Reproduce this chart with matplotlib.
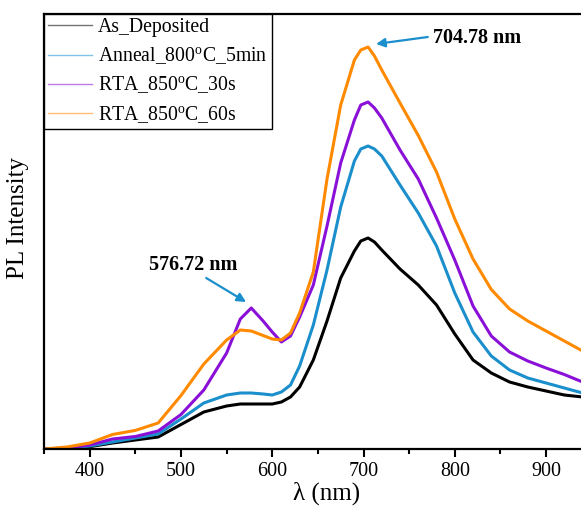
import matplotlib
matplotlib.use("Agg")
import matplotlib.pyplot as plt
from matplotlib.ticker import MultipleLocator, NullLocator

plt.rcParams['font.family'] = ['Liberation Serif', 'DejaVu Serif']
plt.rcParams['mathtext.fontset'] = 'custom'
plt.rcParams['mathtext.rm'] = 'Liberation Serif'
plt.rcParams['mathtext.it'] = 'Liberation Serif:italic'

# Wavelength grid (nm)
wavelength = [350, 375, 400, 425, 450, 475, 500, 525, 550, 565, 577, 590, 600,
              610, 620, 630, 645, 660, 675, 690, 697, 705, 712, 720, 740, 760,
              780, 800, 820, 840, 860, 880, 900, 920, 940]

# PL intensity (a.u.)
as_deposited = [0, 0.5, 2.3, 6, 9, 12, 24.5, 37, 43, 45, 45, 45, 45,
                47, 52, 62, 89, 128, 171, 198, 208, 211, 207, 199, 180, 164,
                144, 115, 89, 76, 67, 62, 58, 54, 52]
anneal_800_5min = [0, 0.5, 3, 7, 11, 15, 30, 46, 54, 56, 56, 55, 54,
                   57, 64, 83, 124, 179, 242, 288, 300, 303, 300, 293, 264, 236,
                   203, 156, 117, 93, 79, 71, 66, 61, 56]
rta_850_30s = [0, 1, 4, 10, 12.5, 18, 34.5, 59, 96, 130, 141, 128, 117,
               107, 113, 132, 164, 223, 286, 329, 344, 347, 341, 331, 299, 270,
               231, 189, 143, 113, 97, 88, 81, 74.5, 67]
rta_850_60s = [0, 2, 6, 14.5, 18.6, 26, 53.5, 85, 109, 119, 118, 113.5, 110,
               109, 116, 136, 177, 270, 344, 389, 399, 402, 393, 379, 346, 313.5,
               277, 230, 190, 159.5, 140, 128, 118, 108, 98]

labels = ['As_Deposited', r'Anneal_800$^{\mathrm{o}}$C_5min',
          r'RTA_850$^{\mathrm{o}}$C_30s', r'RTA_850$^{\mathrm{o}}$C_60s']
colors = ['#000000', '#1a8fcc', '#8a10d8', '#ff8a00']
series = [as_deposited, anneal_800_5min, rta_850_30s, rta_850_60s]

# Peak annotations: label, arrow head, arrow tail, text anchor
peak_labels = ['704.78 nm', '576.72 nm']
peak_heads = [(713.7, 405), (571.3, 147)]
peak_tails = [(770.4, 412), (527.6, 171)]
peak_text = [(776.3, 411), (465.1, 184)]

fig = plt.figure(figsize=(5.81, 5.09), dpi=100)
ax = fig.add_axes([44.1 / 581, 60 / 509, 564 / 581, 435 / 509])

for y, c, lab in zip(series, colors, labels):
    ax.plot(wavelength, y, color=c, lw=2.2, label=lab, solid_joinstyle='round')

ax.set_xlim(350, 968)
ax.set_ylim(0, 435)
ax.xaxis.set_major_locator(MultipleLocator(100))
ax.xaxis.set_minor_locator(MultipleLocator(50))
ax.yaxis.set_major_locator(NullLocator())
ax.tick_params(axis='x', which='major', direction='out', length=6, width=1.5,
               labelsize=14.5, pad=3)
ax.tick_params(axis='x', which='minor', direction='out', length=3.5, width=1.5)
for s in ax.spines.values():
    s.set_linewidth(1.6)

ax.set_xlabel('λ (nm)', fontsize=18, labelpad=1)
ax.set_ylabel('PL Intensity', fontsize=18)
ax.yaxis.set_label_coords(-0.026, 0.53)

leg = ax.legend(loc='upper left', borderaxespad=0, fancybox=False,
                edgecolor='black', framealpha=1, fontsize=14.2,
                handlelength=2.2, handletextpad=0.3, borderpad=0.22,
                labelspacing=0.42)
leg.get_frame().set_linewidth(1.0)
for ln in leg.get_lines():
    ln.set_linewidth(1.0)
    ln.set_alpha(0.55)

for txt, head, tail, tpos in zip(peak_labels, peak_heads, peak_tails, peak_text):
    ax.annotate('', xy=head, xytext=tail,
                arrowprops=dict(arrowstyle='-|>', color='#1a8fcc', lw=1.6,
                                mutation_scale=13, shrinkA=0, shrinkB=0))
    ax.text(tpos[0], tpos[1], txt, fontsize=14.5, fontweight='bold',
            ha='left', va='center')

fig.savefig('out.png', dpi=100)
